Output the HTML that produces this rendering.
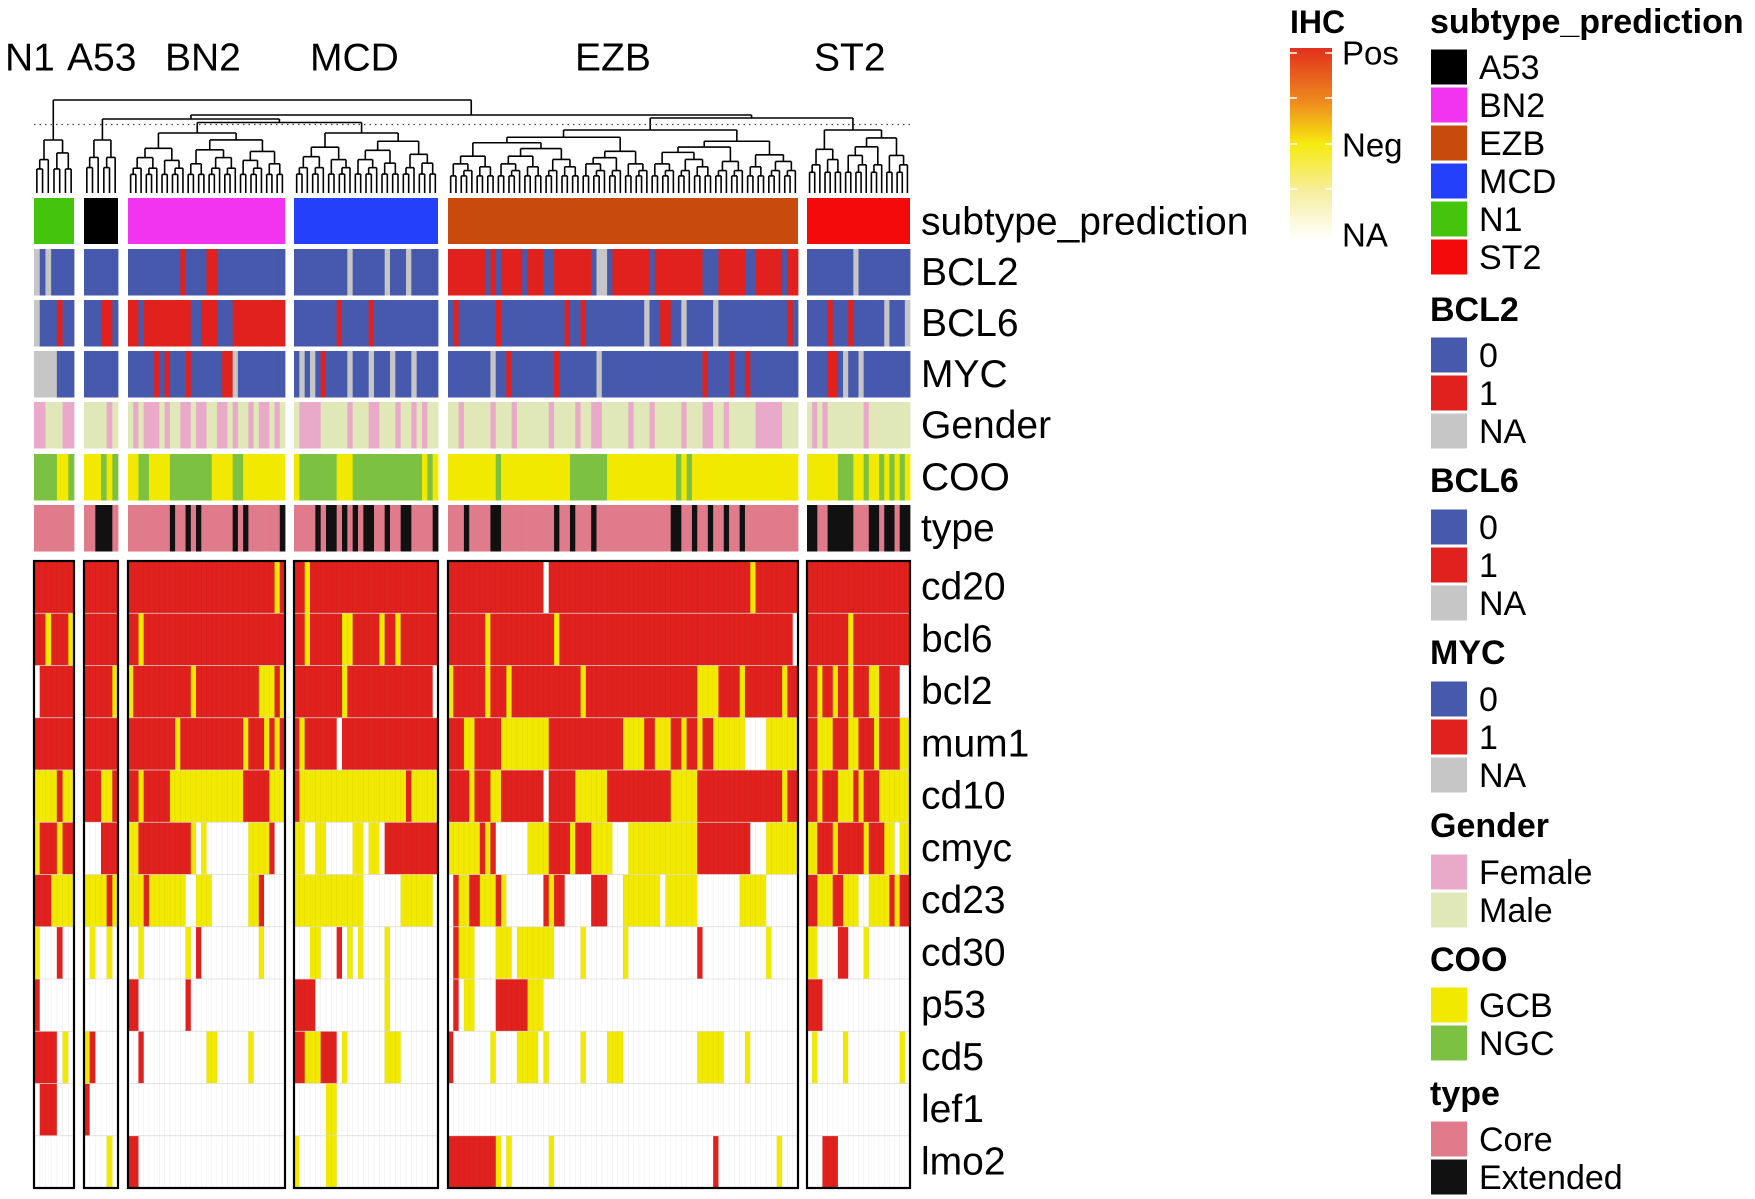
<!DOCTYPE html>
<html><head><meta charset="utf-8"><style>
html,body{margin:0;padding:0;background:#fff;}
svg{display:block;font-family:"Liberation Sans",Arial,sans-serif;}
</style></head><body>
<svg id="chart" width="1755" height="1199" viewBox="0 0 1755 1199">
<defs>
<linearGradient id="ihcgrad" x1="0" y1="0" x2="0" y2="1">
<stop offset="0" stop-color="#e2301c"/><stop offset="0.28" stop-color="#ef8a1e"/><stop offset="0.5" stop-color="#f6ea10"/><stop offset="0.75" stop-color="#f6eea0"/><stop offset="1" stop-color="#ffffff"/>
</linearGradient>
</defs>
<g id="dendro"></g>
<g id="annot"></g>
<g id="heat"></g>
<g id="labels"></g>
<g id="legend"></g>
</svg>
<script>
// ---- data ----
const groups = ["N1","A53","BN2","MCD","EZB","ST2"];
const groupX0 = [34,84,128,294,448,807];
const groupX1 = [74,118,285,438,798,910];
const groupLabelX = [5,67,165,310,575,814];
const subtypeColors = {N1:"#44c40c",A53:"#000000",BN2:"#f233f0",MCD:"#2540fa",EZB:"#c84a0c",ST2:"#f40a0a"};
const heatRows = ["cd20","bcl6","bcl2","mum1","cd10","cmyc","cd23","cd30","p53","cd5","lef1","lmo2"];
const heatN1 = ["R7","RRYRRRY","WR6","R7","YYYYRYY","YRRRYRR","RRRYYYY","YWWWRWW","RW6","RRRRWYW","WRRRWWW","W7"];
const heatA53 = ["R6","R6","R5Y1","R6","RRRYYR","WWWRRR","YYYYRY","WYWWYW","W6","YRWWWW","RWWWWW","WWWWYW"];
const heatBN2 = ["R28Y1R1","R2Y1R27","Y1R11Y1R12Y3R1Y1","R9Y1R12Y1R3Y1R1Y1R1","R2Y1R5Y14R5Y3","Y2R10Y1W1Y1W8Y4R1W2","Y3R1Y7W2Y3W7Y2R1W4","W2Y1W8Y1W1R1W11Y1W4","R2W9R1W18","W2R1W12Y2W6Y1W6","W30","R2W28"];
const heatMCD = ["R2Y1R24","R2Y1R6Y2R5Y1R2Y1R7","R9Y1R16W1","R1Y1R6W1R18","R1Y20R1Y5","Y2W2Y2W5Y2W1Y2W1R10","Y13W7Y6W1","W3Y2W3R1W1Y1W1Y1W4Y1W9","R4W13Y1W9","R2Y3R3W1Y1W7Y3W7","W6Y2W19","Y1W5Y2W19"];
const heatEZB = ["R18W1R38Y1R8","R7Y1R12Y1R44W1","Y1R6Y1R3Y1R13Y1R21Y4R4Y1R7Y1R2","R3Y2R5Y9R14Y4R2Y3R2Y1R2Y1R2Y6W4Y6","R4Y1R3Y2R8W1R5Y6R12Y5R16Y1R2","Y6R1Y1R1W6Y4R4Y1R3Y4W3Y13R10W3Y6","W1R1Y2R2Y3R1Y1W7R1Y1R2W5R3W3Y7W1Y6W8Y5W6","W1R1Y3W4Y3W1Y7W5Y1W7Y1W13R1W12Y1W5","W1R1W1Y2W4R6Y3W48","R1W7Y1W4Y4W1Y1W6Y1W4Y3W14Y5W4Y1W9","W66","R9Y1W1Y1W7Y1W30R1W11Y1W3"];
const heatST2 = ["R20","R8Y1R11","R2Y1R2Y1R2Y1R3Y2R4W2","R2Y3R3Y2R3Y1R4Y2","R2Y1R3Y3R1Y1R3Y6","Y2R3Y1R5Y1R3Y2W1Y2","R2Y3R2Y3W2Y4R1Y1R2","Y2W4R2W3Y1W8","R3W17","W1Y1W5Y1W10Y1W1","W20","W3R3W14"];
const annotRows = ["BCL2","BCL6","MYC","Gender","COO","type"];
const annBCL2 = ["G1B1G1B4","B6","B10R1B4R2B13","B10G1B6G1B3G1B5","R7B1R1B1R4B1R3B2R7B1G2B1R7B1R9B3R5B2R5B1R2","B9G1B10"];
const annBCL6 = ["G1B3R1B2","B3R2B1","R2B1R9B2R3B3R10","B8R1B5R1B12","B1R1B7R1B12R1B2R1B11G1B2R2B2G1B5G1B13R1B1","B4R1B3R1B6G1B3G1"];
const annMYC = ["G4B3","B6","B5R1B1R1B3R1B6R2G1B9","B1G1B1G1B1R1B4G1B3G1B3G1B3G1B4","B8G1B2R1B8R1B7G1B19R1B4R1B2R1B9","B4R2B1G1B2G1B9"];
const annGender = ["F2M3F2","M4F1M1","M1F1M1F3M1F1M2F2M1F2M2F2M1F1M2F1M1F2M1F1M1","M1F4M5F1M3F2M3F1M2F1M1F1M2","M2F1M5F1M3F1M6F1M4F1M2F2M5F1M3F1M5F1M3F2M2F1M5F5M3","M1F1M1F1M7F1M8"];
const annCOO = ["N4Y2N1","Y3N1Y1N1","Y2N2Y4N8Y4N2Y8","Y1N7Y3N13Y1N1Y1","Y9N1Y13N7Y13N1Y1N1Y20","Y6N3Y2N1Y2N1Y1N1Y1N1Y1"];
const annType = ["C7","C2E3C1","C8E1C2E1C1E1C6E1C1E1C6E1","C4E1C1E2C1E1C1E1C1E2C2E1C2E2C4E1","C3E1C4E2C10E1C2E1C3E1C14E2C2E1C2E1C2E1C2E1C10","E2C2E5C3E2C1E2C1E2"];
const legendSubtype = ["A53","BN2","EZB","MCD","N1","ST2"];

// ---- styles ----
const heatCol = {R:"#e1211e",Y:"#f2e900",W:"#ffffff"};
const binCol = {B:"#4659ad",R:"#e0211e",G:"#c6c6c6"};
const genCol = {F:"#e9a9c9",M:"#e0e8b8"};
const cooCol = {Y:"#f2e900",N:"#7cc142"};
const typeCol = {C:"#e07b8b",E:"#111111"};
const annY0 = [249,300,351,402,454,505];
const annH = 46.5;
const subY0 = 198, subH = 46;
const heatTop = 561, heatBottom = 1188;
const rowH = (heatBottom-heatTop)/heatRows.length;
const NS = "http://www.w3.org/2000/svg";

function expand(s){
  const out=[]; const re=/([A-Z])(\d*)/g; let m;
  while((m=re.exec(s))){const n=m[2]===""?1:parseInt(m[2]);for(let i=0;i<n;i++)out.push(m[1]);}
  return out;
}
function mk(tag, attrs, parent){
  const e=document.createElementNS(NS,tag);
  for(const k in attrs)e.setAttribute(k,attrs[k]);
  parent.appendChild(e);return e;
}
const colX = (g,i,n)=>groupX0[g]+(groupX1[g]-groupX0[g])*i/n;

// annotation rows
const annG=document.getElementById('annot');
groups.forEach((gname,g)=>{
  const r=mk('rect',{x:groupX0[g],y:subY0,width:groupX1[g]-groupX0[g],height:subH,fill:subtypeColors[gname]},annG);
  
  
});
const annData=[annBCL2,annBCL6,annMYC,annGender,annCOO,annType];
const annPal=[binCol,binCol,binCol,genCol,cooCol,typeCol];
annData.forEach((arr,ri)=>{
  arr.forEach((s,g)=>{
    const v=expand(s), n=v.length;
    v.forEach((c,i)=>{
      const x0=colX(g,i,n), x1=colX(g,i+1,n);
      const r=mk('rect',{x:x0,y:annY0[ri],width:x1-x0+0.4,height:annH,fill:annPal[ri][c]},annG);
      
      
    });
  });
});

// heatmap
const heatG=document.getElementById('heat');
const heatData=[heatN1,heatA53,heatBN2,heatMCD,heatEZB,heatST2];
heatData.forEach((rows,g)=>{
  rows.forEach((s,ri)=>{
    const v=expand(s), n=v.length;
    v.forEach((c,i)=>{
      const x0=colX(g,i,n), x1=colX(g,i+1,n);
      const r=mk('rect',{x:x0,y:heatTop+ri*rowH,width:x1-x0+0.4,height:rowH+0.4,fill:heatCol[c]},heatG);
      
      
    });
    const ln=mk('line',{x1:groupX0[g],x2:groupX1[g],y1:heatTop+ri*rowH,y2:heatTop+ri*rowH,stroke:"#dcdcdc","stroke-width":0.8},heatG);
    
    
  });
  const n=expand(rows[0]).length;
  for(let i=1;i<n;i++){
    const x=colX(g,i,n);
    const l=mk('line',{x1:x,x2:x,y1:heatTop,y2:heatBottom,stroke:"#000",'stroke-opacity':0.06,"stroke-width":0.6},heatG);
    
    
  }
  const b=mk('rect',{x:groupX0[g],y:heatTop,width:groupX1[g]-groupX0[g],height:heatBottom-heatTop,fill:"none",stroke:"#000","stroke-width":2.2},heatG);
  
  
});

// dendrogram
const dG=document.getElementById('dendro');
const leafY=193;
const groupRootY=[140,140,133,133,130,130];
function seg(x1,y1,x2,y2){
  const l=mk('line',{x1,y1,x2,y2,stroke:"#000","stroke-width":1.6},dG);
  
  
}
function tree(g,lo,hi,n,rootY){
  const size=hi-lo;
  if(size===1){return {x:(colX(g,lo,n)+colX(g,lo+1,n))/2,y:leafY};}
  const mid=lo+Math.max(1,Math.round(size*(0.35+0.3*((lo*7+hi*3)%5)/4)));
  const a=tree(g,lo,Math.min(mid,hi-1),n,rootY), b=tree(g,Math.min(mid,hi-1),hi,n,rootY);
  const frac=Math.log2(size)/Math.log2(n);
  const y=leafY-8-(leafY-8-rootY)*frac;
  seg(a.x,a.y,a.x,y);seg(b.x,b.y,b.x,y);seg(a.x,y,b.x,y);
  return {x:(a.x+b.x)/2,y};
}
const roots=groups.map((gn,g)=>{const n=expand(heatData[g][0]).length;return tree(g,0,n,n,groupRootY[g]);});
function join(a,b,y){seg(a.x,a.y,a.x,y);seg(b.x,b.y,b.x,y);seg(a.x,y,b.x,y);return {x:(a.x+b.x)/2,y};}
const bm=join(roots[2],roots[3],122.5);
const a53bm=join(roots[1],bm,119);
const ezst=join(roots[4],roots[5],118);
const mid=join(a53bm,ezst,115);
join(roots[0],mid,100);
const dot=mk('line',{x1:34,x2:910,y1:124.5,y2:124.5,stroke:"#444","stroke-width":1.2,"stroke-dasharray":"1.5,4"},dG);



// labels
const lG=document.getElementById('labels');
function txt(x,y,s,size,weight,parent,name){
  const t=mk('text',{x,y,'font-size':size,'font-weight':weight||'normal','dominant-baseline':'central',fill:'#000'},parent);
  t.textContent=s;
  
  
  return t;
}
groups.forEach((gn,g)=>txt(groupLabelX[g],58,gn,39,'normal',lG,'group-label-'+gn.toLowerCase()));
txt(921,222,'subtype_prediction',39,'normal',lG,'row-label-subtype-prediction');
annotRows.forEach((r,i)=>txt(921,annY0[i]+annH/2,r,39,'normal',lG,'row-label-'+r.toLowerCase()));
heatRows.forEach((r,i)=>txt(921,heatTop+(i+0.5)*rowH,r,39,'normal',lG,'row-label-'+r));

// legends
const LG=document.getElementById('legend');
txt(1290,22,'IHC',32,'bold',LG,'ihc-legend-title');
const gb=mk('rect',{x:1290,y:48,width:42,height:192,fill:"url(#ihcgrad)"},LG);


[53,98,144,189].forEach(y=>{
  const t1=mk('line',{x1:1290,x2:1297,y1:y,y2:y,stroke:"#fff","stroke-width":1.5},LG);
  
  
  const t2=mk('line',{x1:1325,x2:1332,y1:y,y2:y,stroke:"#fff","stroke-width":1.5},LG);
  
  
});
txt(1342,53,'Pos',33,'normal',LG,'ihc-label-pos');
txt(1342,145,'Neg',33,'normal',LG,'ihc-label-neg');
txt(1342,235,'NA',33,'normal',LG,'ihc-label-na');

function legendBlock(title,titleY,entries,colors,firstY){
  txt(1430,titleY,title,34,'bold',LG,'legend-title-'+title.toLowerCase().replace('_','-'));
  entries.forEach((e,i)=>{
    const cy=firstY+i*38;
    const r=mk('rect',{x:1431,y:cy-17.5,width:36,height:35,fill:colors[i]},LG);
    
    
    txt(1479,cy+1,e,34,'normal',LG,'legend-entry-'+e.toLowerCase());
  });
}
legendBlock('subtype_prediction',22,legendSubtype,legendSubtype.map(s=>subtypeColors[s]),67);
legendBlock('BCL2',310,['0','1','NA'],[binCol.B,binCol.R,binCol.G],355);
legendBlock('BCL6',481,['0','1','NA'],[binCol.B,binCol.R,binCol.G],527);
legendBlock('MYC',653,['0','1','NA'],[binCol.B,binCol.R,binCol.G],699);
legendBlock('Gender',826,['Female','Male'],[genCol.F,genCol.M],872);
legendBlock('COO',960,['GCB','NGC'],[cooCol.Y,cooCol.N],1005);
legendBlock('type',1094,['Core','Extended'],[typeCol.C,typeCol.E],1139);
</script>
</body></html>
